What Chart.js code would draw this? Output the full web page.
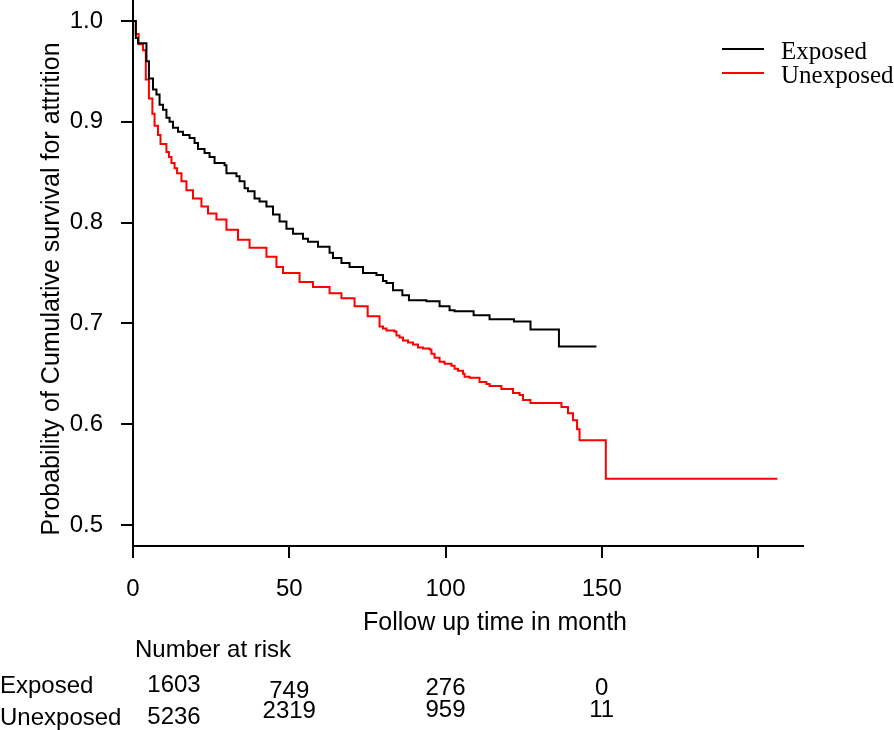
<!DOCTYPE html>
<html>
<head>
<meta charset="utf-8">
<script src="https://cdn.jsdelivr.net/npm/chart.js"></script>
<style>
  html, body { margin: 0; padding: 0; background: #fff; }
  canvas { display: block; }
</style>
</head>
<body>
<canvas id="kmChart" width="894" height="730"></canvas>
<script>
// Kaplan-Meier: время (мес.) каждого шага и доля "выживших" после шага
const exposedTime = [0, 0.9, 1.6, 4.3, 5.1, 6.4, 7.5, 8.5, 9.6, 10.7, 11.7, 12.8, 14.4, 16.0, 18.1, 19.7,
    20.8, 22.9, 24.5, 26.1, 29.3, 29.9, 33.1, 34.1, 35.7, 36.8, 38.9, 40.5, 42.7, 44.8, 46.9, 49.1,
    51.2, 54.4, 56.0, 59.2, 62.9, 64.0, 66.7, 69.3, 73.6, 77.9, 80.0, 81.1, 83.2, 86.2, 88.3, 93.9,
    98.1, 101.3, 102.9, 109.0, 114.1, 121.9, 127.2, 136.3, 148.3];
const exposedSurv = [1.0, 0.983, 0.978, 0.960, 0.943, 0.932, 0.927, 0.917, 0.912, 0.904, 0.900, 0.894,
    0.890, 0.887, 0.884, 0.879, 0.873, 0.869, 0.865, 0.859, 0.857, 0.849, 0.846, 0.841, 0.834, 0.831,
    0.824, 0.821, 0.816, 0.808, 0.801, 0.794, 0.789, 0.784, 0.781, 0.776, 0.770, 0.765, 0.760, 0.756,
    0.750, 0.748, 0.742, 0.740, 0.733, 0.728, 0.723, 0.722, 0.717, 0.713, 0.712, 0.708, 0.704, 0.702,
    0.694, 0.677, 0.677];

const unexposedTime = [0, 0.9, 1.8, 3.2, 4.1, 5.1, 6.2, 6.9, 8.0, 8.8, 10.7, 11.5, 12.3, 13.3, 14.1,
    15.5, 17.1, 19.2, 21.9, 24.0, 26.7, 29.9, 33.6, 37.3, 42.7, 45.9, 48.0, 53.3, 57.6, 62.9, 66.7,
    70.9, 75.1, 78.9, 80.0, 81.1, 83.7, 84.3, 85.3, 86.4, 88.0, 89.6, 91.2, 92.8, 94.9, 95.5, 96.5,
    98.1, 99.7, 101.9, 102.9, 104.0, 105.6, 106.1, 107.7, 110.9, 113.1, 114.1, 117.9, 121.6, 123.7,
    124.8, 127.2, 137.1, 139.2, 140.8, 142.1, 142.9, 151.3, 206.2];
const unexposedSurv = [1.0, 0.987, 0.977, 0.971, 0.942, 0.923, 0.908, 0.896, 0.887, 0.878, 0.870, 0.865,
    0.859, 0.854, 0.849, 0.841, 0.832, 0.824, 0.816, 0.809, 0.803, 0.793, 0.783, 0.775, 0.766, 0.756,
    0.750, 0.741, 0.736, 0.730, 0.725, 0.717, 0.707, 0.697, 0.695, 0.693, 0.692, 0.688, 0.686, 0.683,
    0.681, 0.679, 0.676, 0.675, 0.674, 0.670, 0.666, 0.662, 0.660, 0.658, 0.655, 0.653, 0.650, 0.647,
    0.646, 0.642, 0.640, 0.638, 0.635, 0.631, 0.629, 0.624, 0.621, 0.617, 0.611, 0.604, 0.595, 0.584,
    0.546, 0.546];

// Таблица "Number at risk"
const atRiskTimes = [0, 50, 100, 150];
const exposedAtRisk = [1603, 749, 276, 0];
const unexposedAtRisk = [5236, 2319, 959, 11];

// Деления осей
const xTicks = [0, 50, 100, 150, 200];
const xTickLabels = ['0', '50', '100', '150', ''];
const yTicks = [0.5, 0.6, 0.7, 0.8, 0.9, 1.0];

const sans = '"Liberation Sans", Arial, sans-serif';
const serif = '"Liberation Serif", "Times New Roman", serif';

function toPoints(times, surv) {
    return times.map((t, i) => ({ x: t, y: surv[i] }));
}

// Подписи осей, легенда и таблица под графиком
const extraText = {
    id: 'extraText',
    afterDraw(chart) {
        const ctx = chart.ctx;
        const xs = chart.scales.x;
        ctx.save();
        ctx.fillStyle = '#000';
        ctx.textBaseline = 'alphabetic';

        // подпись оси Y
        ctx.font = '25px ' + sans;
        ctx.save();
        ctx.translate(59, 289);
        ctx.rotate(-Math.PI / 2);
        ctx.textAlign = 'center';
        ctx.fillText('Probability of Cumulative survival for attrition', 0, 0);
        ctx.restore();

        // подпись оси X
        ctx.textAlign = 'center';
        ctx.fillText('Follow up time in month', 495, 630);

        // таблица
        ctx.font = '24px ' + sans;
        ctx.textAlign = 'left';
        ctx.fillText('Number at risk', 135, 657);
        ctx.fillText('Exposed', 0, 693);
        ctx.fillText('Unexposed', 0, 725);
        const row1 = [692, 698, 695, 695];
        const row2 = [724, 718, 717, 717];
        ctx.textAlign = 'center';
        atRiskTimes.forEach((t, i) => {
            let px = xs.getPixelForValue(t);
            if (i === 0) px += 41;
            ctx.fillText(String(exposedAtRisk[i]), px, row1[i]);
            ctx.fillText(String(unexposedAtRisk[i]), px, row2[i]);
        });

        // легенда
        ctx.lineWidth = 2;
        chart.data.datasets.forEach((ds, i) => {
            const y = 49 + i * 24;
            ctx.strokeStyle = ds.borderColor;
            ctx.beginPath();
            ctx.moveTo(722, y);
            ctx.lineTo(764, y);
            ctx.stroke();
            ctx.font = '25px ' + serif;
            ctx.textAlign = 'left';
            ctx.fillText(ds.label, 781, y + 10);
        });
        ctx.restore();
    }
};

let ctx = document.getElementById('kmChart').getContext('2d');
let kmChart = new Chart(ctx, {
    type: 'line',
    data: {
        datasets: [
            {
                label: 'Exposed',
                data: toPoints(exposedTime, exposedSurv),
                borderColor: '#000000',
                borderWidth: 2,
                pointRadius: 0,
                stepped: true,
                fill: false
            },
            {
                label: 'Unexposed',
                data: toPoints(unexposedTime, unexposedSurv),
                borderColor: '#ff0000',
                borderWidth: 2,
                pointRadius: 0,
                stepped: true,
                fill: false
            }
        ]
    },
    options: {
        responsive: false,
        animation: false,
        devicePixelRatio: 1,
        layout: { padding: { left: 0, right: 91, top: 0, bottom: 0 } },
        plugins: {
            legend: { display: false },
            tooltip: { enabled: false }
        },
        scales: {
            x: {
                type: 'linear',
                min: 0,
                max: 214.4,
                afterBuildTicks(s) { s.ticks = xTicks.map(v => ({ value: v })); },
                afterFit(s) { s.height = 184; s.paddingLeft = 0; s.paddingRight = 0; },
                ticks: {
                    color: '#000',
                    font: { family: sans, size: 24 },
                    padding: 17,
                    maxRotation: 0,
                    autoSkip: false,
                    callback: (v, i) => xTickLabels[i]
                },
                grid: { drawOnChartArea: false, drawTicks: true, tickLength: 12, color: '#000', lineWidth: 2 },
                border: { display: true, color: '#000', width: 2 }
            },
            y: {
                type: 'linear',
                min: 0.4792,
                max: 1.0208,
                afterBuildTicks(s) { s.ticks = yTicks.map(v => ({ value: v })); },
                afterFit(s) { s.width = 133; s.paddingTop = 0; s.paddingBottom = 0; },
                ticks: {
                    color: '#000',
                    font: { family: sans, size: 24 },
                    padding: 18,
                    autoSkip: false,
                    callback: v => v.toFixed(1)
                },
                grid: { drawOnChartArea: false, drawTicks: true, tickLength: 12, color: '#000', lineWidth: 2 },
                border: { display: true, color: '#000', width: 2 }
            }
        }
    },
    plugins: [extraText]
});
</script>
</body>
</html>
